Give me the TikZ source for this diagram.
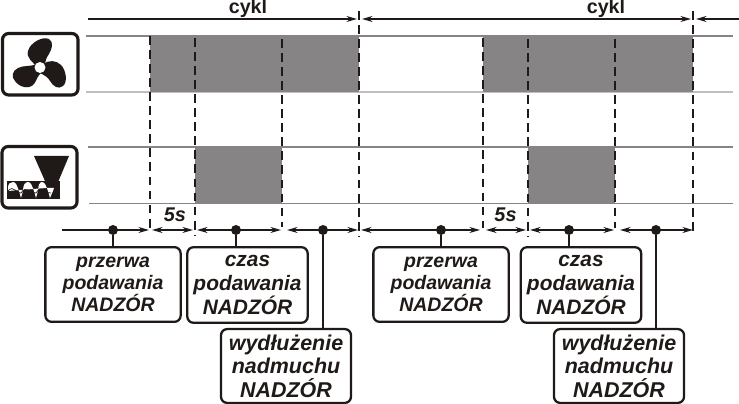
\documentclass[tikz,border=0pt]{standalone}
\usepackage{fontspec}
\setmainfont{Liberation Sans}
\usetikzlibrary{arrows.meta}
\definecolor{pasek}{HTML}{868484}
\definecolor{tusz}{HTML}{1F1A17}
\tikzset{
  opis/.style={draw=tusz, line width=1.3pt, rounded corners=3.5pt, inner sep=0pt, align=center, text=tusz},
  opisp/.style={opis, font=\fontsize{11.1}{12.6}\selectfont\bfseries\itshape, minimum width=77pt, minimum height=42.5pt},
  opisc/.style={opis, font=\fontsize{11.9}{13.9}\selectfont\bfseries\itshape, minimum width=68.5pt, minimum height=43pt},
  opisw/.style={opis, font=\fontsize{12.2}{13.4}\selectfont\bfseries\itshape, minimum width=74pt, minimum height=42pt},
  ikona/.style={draw=tusz, line width=1.8pt, rounded corners=3.5pt},
  kropka/.style={circle, fill=tusz, inner sep=0pt, minimum size=5.7pt},
  kreska/.style={draw=tusz, line width=1.2pt, dash pattern=on 5pt off 3pt},
  wymiar/.style={draw=tusz, line width=.8pt, {Stealth[length=6pt,width=3.4pt]}-{Stealth[length=6pt,width=3.4pt]}},
  wymiarp/.style={draw=tusz, line width=.8pt, -{Stealth[length=6pt,width=3.4pt]}},
  wymiarl/.style={draw=tusz, line width=.8pt, {Stealth[length=6pt,width=3.4pt]}-},
  linia/.style={draw=pasek, line width=.6pt},
  jasna/.style={draw=black!25, line width=.8pt},
  lacznik/.style={draw=tusz, line width=1.4pt},
  tytul/.style={font=\fontsize{11.2}{12}\selectfont\bfseries, text=tusz, inner sep=0pt, anchor=base},
  czas5/.style={font=\fontsize{11.3}{12}\selectfont\bfseries\itshape, text=tusz, inner sep=0pt, anchor=base}
}
\begin{document}
\begin{tikzpicture}[x=0.02cm, y=-0.02cm]
    \useasboundingbox (0, 0) rectangle (739, 404);
    % paski
    \draw [linia] (86, 36) to (733, 36);
    \draw [jasna] (86, 92) to (733, 92);
    \draw [linia] (88, 147) to (733, 147);
    \draw [linia] (89, 203.5) to (733, 203.5);
    \fill [pasek] (150, 36) rectangle (359, 92);
    \fill [pasek] (483, 36) rectangle (693, 92);
    \fill [pasek] (195, 147) rectangle (282, 204);
    \fill [pasek] (528, 147) rectangle (615, 204);
    % ikony
    \draw [ikona] (2.5, 33.5) rectangle (78, 95);
    \fill [tusz] (36, 66) .. controls (33, 62) and (26, 58) .. (28, 51) .. controls (30, 43) and (42, 36) .. (49, 39) .. controls (54, 42) and (52, 49) .. (49, 54) .. controls (46, 58) and (45, 62) .. (45, 66) -- cycle;
    \fill [tusz] (37, 64) .. controls (30, 67) and (24, 65) .. (18, 68) .. controls (12, 71) and (11, 77) .. (15, 81) .. controls (19, 87) and (29, 90) .. (34, 84) .. controls (37, 80) and (37, 76) .. (42, 72) -- cycle;
    \fill [tusz] (43, 64) .. controls (49, 60) and (56, 60) .. (61, 65) .. controls (66, 70) and (68, 82) .. (63, 86) .. controls (58, 90) and (53, 86) .. (50, 81) .. controls (48, 77) and (44, 75) .. (38, 72) -- cycle;
    \fill [white] (40, 67.5) circle [radius=5.5];
    \draw [ikona] (2, 146.5) rectangle (77, 208);
    \fill [tusz] (34, 156) -- (69, 156) -- (58.5, 181) -- (45, 181) -- cycle;
    \fill [tusz] (7, 181) rectangle (60, 199);
    \fill [white] (8, 188) .. controls (8, 184) and (10, 182) .. (13, 182) .. controls (16, 182) and (17, 186) .. (19, 191) -- (21, 198) -- (23, 191) .. controls (23, 185) and (25, 182) .. (28, 182) .. controls (31, 182) and (32, 186) .. (34, 191) -- (36, 198) -- (38, 191) .. controls (38, 185) and (40, 182) .. (42, 182) .. controls (45, 182) and (46, 186) .. (48, 191) -- (50, 198) -- (53, 191) -- (54, 188) -- (46, 188) -- (8, 191) -- cycle;
    \draw [tusz, line width=.4pt] (8, 191) .. controls (14, 184) and (17, 195) .. (21, 193) .. controls (26, 184) and (32, 195) .. (36, 193) .. controls (41, 184) and (47, 195) .. (51, 193);
    % przerywane
    \coordinate (p1) at (150, 36);
    \coordinate (k1) at (150, 230);
    \coordinate (p2) at (195, 38);
    \coordinate (k2) at (195, 236);
    \coordinate (p3) at (282, 39);
    \coordinate (k3) at (282, 227);
    \coordinate (p4) at (359, 11);
    \coordinate (k4) at (359, 236);
    \coordinate (p5) at (483, 38);
    \coordinate (k5) at (483, 228);
    \coordinate (p6) at (528, 39);
    \coordinate (k6) at (528, 236);
    \coordinate (p7) at (615, 39);
    \coordinate (k7) at (615, 228);
    \coordinate (p8) at (693, 11);
    \coordinate (k8) at (693, 234);
    \draw [kreska] (p1) to (k1);
    \draw [kreska] (p2) to (k2);
    \draw [kreska] (p3) to (k3);
    \draw [kreska] (p4) to (k4);
    \draw [kreska] (p5) to (k5);
    \draw [kreska] (p6) to (k6);
    \draw [kreska] (p7) to (k7);
    \draw [kreska] (p8) to (k8);
    % cykl
    \node [tytul] (cykla) at (248, 14) {cykl};
    \node [tytul] (cyklb) at (606, 14) {cykl};
    \coordinate (g0) at (88, 19);
    \coordinate (g1) at (357, 19);
    \coordinate (g2) at (362, 19);
    \coordinate (g3) at (691, 19);
    \coordinate (g4) at (696, 19);
    \coordinate (g5) at (739, 19);
    \draw [wymiarp] (g0) to (g1);
    \draw [wymiar] (g2) to (g3);
    \draw [wymiarl] (g4) to (g5);
    % odcinki
    \coordinate (d0) at (62, 230);
    \coordinate (d1) at (149, 230);
    \coordinate (d2) at (152, 230);
    \coordinate (d3) at (193, 230);
    \coordinate (d4) at (197, 230);
    \coordinate (d5) at (281, 230);
    \coordinate (d6) at (287, 230);
    \coordinate (d7) at (358, 230);
    \coordinate (d8) at (361, 230);
    \coordinate (d9) at (480, 230);
    \coordinate (d10) at (486, 230);
    \coordinate (d11) at (526, 230);
    \coordinate (d12) at (530, 230);
    \coordinate (d13) at (614, 230);
    \coordinate (d14) at (620, 230);
    \coordinate (d15) at (693, 230);
    \draw [wymiarp] (d0) to (d1);
    \draw [wymiar] (d2) to (d3);
    \draw [wymiar] (d4) to (d5);
    \draw [wymiar] (d6) to (d7);
    \draw [wymiar] (d8) to (d9);
    \draw [wymiar] (d10) to (d11);
    \draw [wymiar] (d12) to (d13);
    \draw [wymiar] (d14) to (d15);
    \node [czas5] (t1) at (175, 222) {5s};
    \node [czas5] (t2) at (505.5, 222) {5s};
    % kropki
    \node [kropka] (a) at (113, 230) {};
    \node [kropka] (b) at (236, 230) {};
    \node [kropka] (c) at (323, 230) {};
    \node [kropka] (e) at (441, 230) {};
    \node [kropka] (f) at (569, 230) {};
    \node [kropka] (g) at (656, 230) {};
    % opisy
    \node [opisp] (pa) at (113, 284.5) {przerwa\\podawania\\NADZÓR};
    \node [opisc] (ca) at (247.5, 285) {czas\\podawania\\NADZÓR};
    \node [opisw] (wa) at (286, 366) {wydłużenie\\nadmuchu\\NADZÓR};
    \node [opisp] (pb) at (441, 284.5) {przerwa\\podawania\\NADZÓR};
    \node [opisc] (cb) at (581, 285) {czas\\podawania\\NADZÓR};
    \node [opisw] (wb) at (619, 366) {wydłużenie\\nadmuchu\\NADZÓR};
    \draw [lacznik] (a) to (pa.north -| a);
    \draw [lacznik] (b) to (ca.north -| b);
    \draw [lacznik] (c) to (wa.north -| c);
    \draw [lacznik] (e) to (pb.north -| e);
    \draw [lacznik] (f) to (cb.north -| f);
    \draw [lacznik] (g) to (wb.north -| g);
\end{tikzpicture}
\end{document}
